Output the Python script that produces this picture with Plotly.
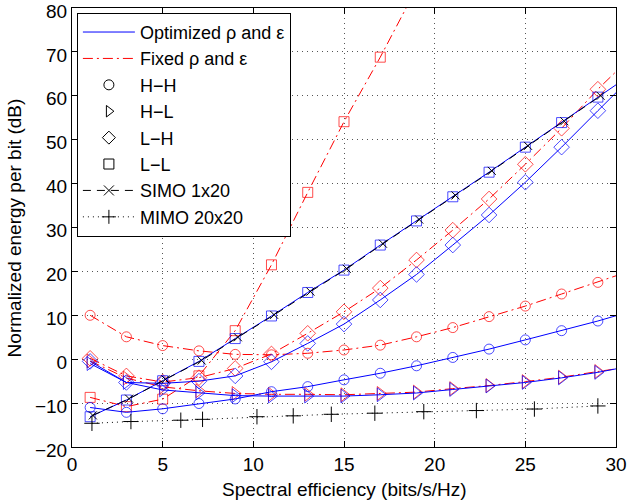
import plotly.graph_objects as go

# ---- data ----
x_odd = [1, 3, 5, 7, 9, 11, 13, 15, 17, 19, 21, 23, 25, 27, 29, 30]

hh_opt   = [-11.0, -12.1, -11.3, -10.1, -9.05, -7.4, -6.25, -4.7, -3.2, -1.5, 0.4, 2.3, 4.4, 6.5, 8.7, 9.9]
hh_fixed = [10.0, 5.1, 3.1, 1.9, 1.1, 1.0, 1.35, 2.1, 3.2, 5.1, 7.2, 9.7, 12.1, 14.85, 17.5, 19.0]
hl_opt   = [-1.0, -5.3, -7.0, -7.7, -8.3, -8.4, -8.4, -8.4, -8.1, -7.7, -6.9, -6.1, -5.3, -4.25, -3.0, -2.2]
hl_fixed = [-0.4, -4.3, -6.3, -7.2, -7.8, -8.0, -8.0, -8.1, -7.8, -7.5, -6.7, -6.0, -5.1, -4.1, -2.8, -2.2]
lh_opt   = [-0.5, -5.3, -5.5, -5.0, -3.8, -0.6, 3.6, 8.0, 13.5, 19.3, 26.0, 32.85, 40.3, 48.3, 56.6, 60.7]
lh_fixed = [0.2, -3.8, -5.2, -4.2, -2.1, 1.2, 5.9, 10.8, 16.2, 22.6, 29.4, 36.5, 44.4, 52.6, 61.5, 65.5]
ll_opt   = [-13.1, -9.3, -4.9, -0.5, 4.7, 9.85, 15.2, 20.3, 26.0, 31.5, 37.0, 42.6, 48.3, 53.9, 59.7, 62.5]

x_ll_fixed = [1, 3, 5, 7, 9, 11, 13, 15, 17, 19]
ll_fixed   = [-8.7, -10.8, -9.1, -3.8, 6.5, 21.5, 38.0, 54.1, 68.8, 84.5]

x_simo = [1.15, 3.15, 5.15, 7.15, 9.15, 11.15, 13.15, 15.15, 17.15, 19.15, 21.15, 23.15, 25.15, 27.15, 29.15]
simo   = [-12.8, -9.0, -4.6, -0.3, 5.0, 10.1, 15.4, 20.6, 26.3, 31.8, 37.3, 42.9, 48.6, 54.2, 60.0]

x_mimo = [1.1, 3.25, 6.0, 7.2, 10.2, 12.2, 14.3, 16.7, 19.4, 22.3, 25.5, 29.0]
mimo   = [-14.6, -14.2, -13.9, -13.7, -13.1, -12.9, -12.55, -12.3, -11.95, -11.7, -11.35, -10.65]

x_title = "Spectral efficiency (bits/s/Hz)"
y_title = "Normalized energy per bit (dB)"

BLUE = "#0000ff"
RED = "#ff0000"
FONT = "Liberation Sans, Arial, Helvetica, sans-serif"
DASHDOT = "10px,4px,2px,4px"
MSIZE = {"circle-open": 10, "triangle-right-open": 12, "diamond-open": 12, "square-open": 10}


def sizes(xs, sym):
    s = [MSIZE[sym]] * len(xs)
    if xs[-1] == 30:
        s[-1] = 0
    return s


fig = go.Figure()

series = [
    (x_odd, hl_fixed, "triangle-right-open", RED, DASHDOT),
    (x_odd, hh_fixed, "circle-open", RED, DASHDOT),
    (x_odd, lh_fixed, "diamond-open", RED, DASHDOT),
    (x_ll_fixed, ll_fixed, "square-open", RED, DASHDOT),
    (x_odd, hh_opt, "circle-open", BLUE, "solid"),
    (x_odd, hl_opt, "triangle-right-open", BLUE, "solid"),
    (x_odd, lh_opt, "diamond-open", BLUE, "solid"),
    (x_odd, ll_opt, "square-open", BLUE, "solid"),
]
for xs, ys, sym, col, dash in series:
    fig.add_trace(go.Scatter(
        x=xs, y=ys, mode="lines+markers", showlegend=False,
        line=dict(color=col, width=1, dash=dash),
        marker=dict(symbol=sym, size=sizes(xs, sym), color=col,
                    line=dict(width=1, color=col))))

fig.add_trace(go.Scatter(
    x=x_simo, y=simo, mode="lines+markers", showlegend=False,
    line=dict(color="black", width=1, dash="8px,6px"),
    marker=dict(symbol="x-thin-open", size=8, color="black", line=dict(width=1, color="black"))))
fig.add_trace(go.Scatter(
    x=x_mimo, y=mimo, mode="lines+markers", showlegend=False,
    line=dict(color="black", width=1, dash="1px,4px"),
    marker=dict(symbol="cross-thin-open", size=11, color="black", line=dict(width=1, color="black"))))

# legend entries
legend_items = [
    ("Optimized \u03c1 and \u03b5", "lines", BLUE, "solid", None),
    ("Fixed \u03c1 and \u03b5", "lines", RED, DASHDOT, None),
    ("H\u2212H", "markers", "black", None, "circle-open"),
    ("H\u2212L", "markers", "black", None, "triangle-right-open"),
    ("L\u2212H", "markers", "black", None, "diamond-open"),
    ("L\u2212L", "markers", "black", None, "square-open"),
    ("SIMO 1x20", "lines+markers", "black", "8px,6px", "x-thin-open"),
    ("MIMO 20x20", "lines+markers", "black", "1px,4px", "cross-thin-open"),
]
for name, mode, col, dash, sym in legend_items:
    kw = dict(x=[None], y=[None], mode=mode, name=name)
    if "lines" in mode:
        kw["line"] = dict(color=col, width=1, dash=dash)
    if sym:
        kw["marker"] = dict(symbol=sym, size=10, color=col, line=dict(width=1, color=col))
    fig.add_trace(go.Scatter(**kw))

axis_common = dict(
    showline=True, linecolor="black", linewidth=1, mirror="ticks",
    ticks="inside", ticklen=6, tickcolor="black",
    showgrid=True, gridcolor="#555555", griddash="1px,4px", gridwidth=1,
    zeroline=False, automargin=False, ticklabeloverflow="allow",
    tickfont=dict(family=FONT, size=19, color="black"),
)

fig.update_xaxes(range=[0, 30], dtick=5, tick0=0, **axis_common)
fig.update_yaxes(range=[-20, 80], dtick=10, tick0=0, ticklabelshift=3, **axis_common)

fig.add_annotation(text=x_title, xref="paper", yref="paper", x=0.5, y=-0.096,
                   xanchor="center", yanchor="middle", showarrow=False,
                   font=dict(family=FONT, size=19, color="black"))
fig.add_annotation(text=y_title, xref="paper", yref="paper", x=-0.105, y=0.5,
                   xanchor="center", yanchor="middle", showarrow=False, textangle=-90,
                   font=dict(family=FONT, size=19, color="black"))

fig.update_layout(
    width=628, height=502,
    margin=dict(l=72, r=12, t=8, b=55),
    paper_bgcolor="white", plot_bgcolor="white",
    font=dict(family=FONT, size=19, color="black"),
    legend=dict(x=0.009, y=0.989, xanchor="left", yanchor="top",
                bgcolor="white", bordercolor="black", borderwidth=1,
                itemwidth=52,
                font=dict(family=FONT, size=18, color="black")),
)

fig.write_html("out.html", config={"displayModeBar": False},
               post_script="document.body.style.margin='0px';")
